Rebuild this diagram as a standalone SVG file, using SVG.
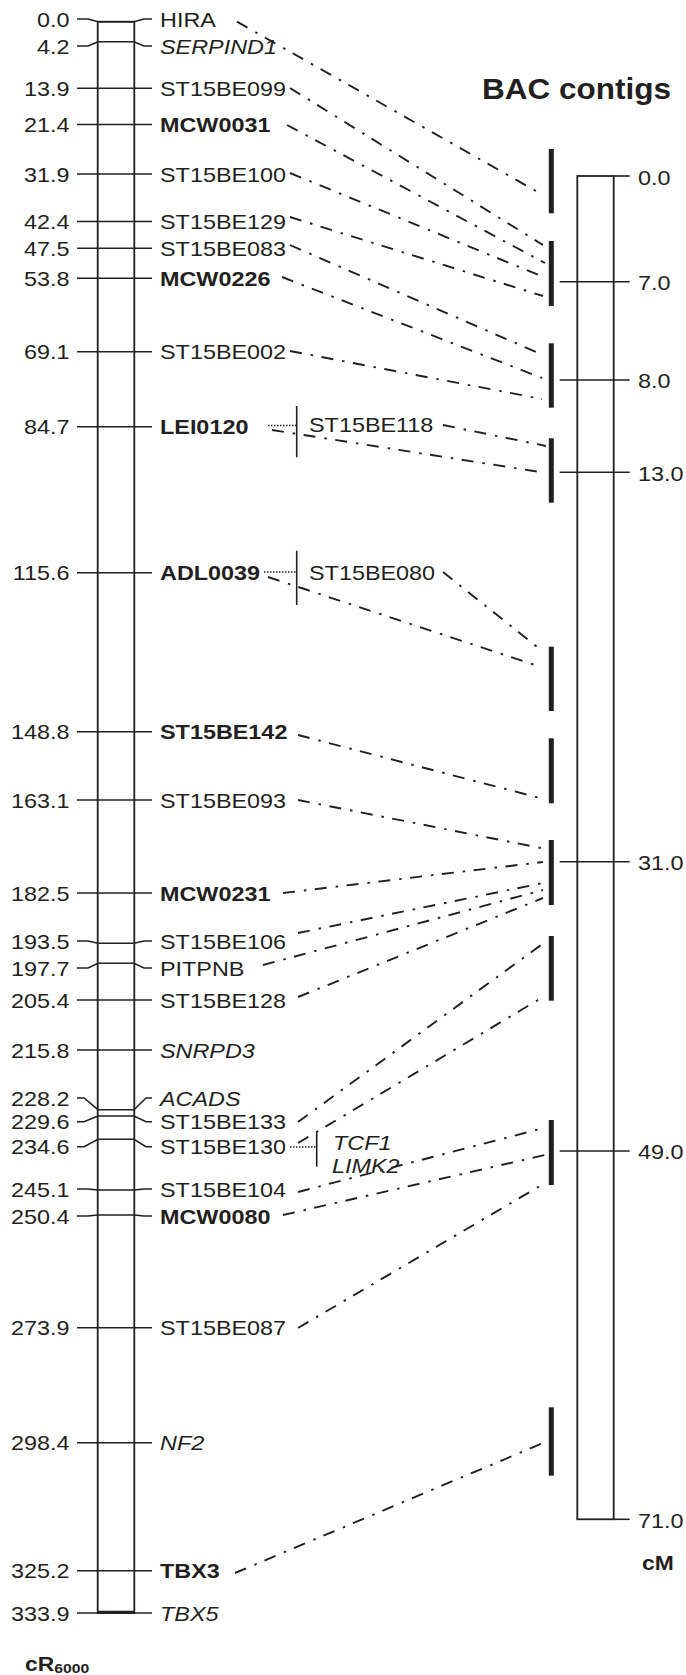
<svg xmlns="http://www.w3.org/2000/svg" width="686" height="1675" viewBox="0 0 686 1675">
<style>
text{font-family:"Liberation Sans",Arial,sans-serif;fill:#231f20}
.n{font-size:20px;text-anchor:end}
.m{font-size:20px}
.b{font-weight:bold}
.i{font-style:italic}
.tk{fill:none;stroke:#231f20;stroke-width:1.6}
.chr{fill:#fff;stroke:#231f20;stroke-width:1.8}
.bar{stroke:#231f20;stroke-width:5}
.cn{fill:none;stroke:#231f20;stroke-width:1.9;stroke-dasharray:12 9 2.5 8.5}
.dt{fill:none;stroke:#231f20;stroke-width:1.3;stroke-dasharray:1.5 1.5}
.vl{stroke:#231f20;stroke-width:1.6}
</style>
<rect width="686" height="1675" fill="#fff"/>

<!-- RH map (cR6000) -->
<g id="rh-map">
<rect class="chr" x="97.7" y="21.7" width="36.6" height="1591.3"/>
<text class="b" transform="translate(25 1670.7) scale(1.17 1)" font-size="19.5">cR<tspan font-size="13.5" dy="2">6000</tspan></text>
</g>

<g id="m-HIRA"><polyline class="tk" points="77,19 88,19 98,21.7 134,21.7 144,19 152,19"/>
<text class="n" transform="translate(69.5 26.5) scale(1.17 1)">0.0</text><text class="m" transform="translate(160 26.5) scale(1.17 1)">HIRA</text></g>
<g id="m-SERPIND1"><polyline class="tk" points="77,46 88,46 98,41.7 134,41.7 144,46 152,46"/>
<text class="n" transform="translate(69.5 53.5) scale(1.17 1)">4.2</text><text class="m i" transform="translate(160 53.5) scale(1.17 1)">SERPIND1</text></g>
<g id="m-ST15BE099"><polyline class="tk" points="77,88.3 152,88.3"/>
<text class="n" transform="translate(69.5 95.8) scale(1.17 1)">13.9</text><text class="m" transform="translate(160 95.8) scale(1.17 1)">ST15BE099</text></g>
<g id="m-MCW0031"><polyline class="tk" points="77,124.5 152,124.5"/>
<text class="n" transform="translate(69.5 132) scale(1.17 1)">21.4</text><text class="m b" transform="translate(160 132) scale(1.17 1)">MCW0031</text></g>
<g id="m-ST15BE100"><polyline class="tk" points="77,174 152,174"/>
<text class="n" transform="translate(69.5 181.5) scale(1.17 1)">31.9</text><text class="m" transform="translate(160 181.5) scale(1.17 1)">ST15BE100</text></g>
<g id="m-ST15BE129"><polyline class="tk" points="77,221.5 152,221.5"/>
<text class="n" transform="translate(69.5 229) scale(1.17 1)">42.4</text><text class="m" transform="translate(160 229) scale(1.17 1)">ST15BE129</text></g>
<g id="m-ST15BE083"><polyline class="tk" points="77,248.3 152,248.3"/>
<text class="n" transform="translate(69.5 255.8) scale(1.17 1)">47.5</text><text class="m" transform="translate(160 255.8) scale(1.17 1)">ST15BE083</text></g>
<g id="m-MCW0226"><polyline class="tk" points="77,278.3 152,278.3"/>
<text class="n" transform="translate(69.5 285.8) scale(1.17 1)">53.8</text><text class="m b" transform="translate(160 285.8) scale(1.17 1)">MCW0226</text></g>
<g id="m-ST15BE002"><polyline class="tk" points="77,351.7 152,351.7"/>
<text class="n" transform="translate(69.5 359.2) scale(1.17 1)">69.1</text><text class="m" transform="translate(160 359.2) scale(1.17 1)">ST15BE002</text></g>
<g id="m-LEI0120"><polyline class="tk" points="77,426.7 152,426.7"/>
<text class="n" transform="translate(69.5 434.2) scale(1.17 1)">84.7</text><text class="m b" transform="translate(160 434.2) scale(1.17 1)">LEI0120</text>
<line class="dt" x1="268" y1="425.5" x2="296" y2="425.5"/><line class="vl" x1="296.7" y1="406" x2="296.7" y2="457.3"/>
<text class="m" transform="translate(309 432) scale(1.17 1)">ST15BE118</text></g>
<g id="m-ADL0039"><polyline class="tk" points="77,572.7 152,572.7"/>
<text class="n" transform="translate(69.5 580.2) scale(1.17 1)">115.6</text><text class="m b" transform="translate(160 580.2) scale(1.17 1)">ADL0039</text>
<line class="dt" x1="264" y1="572" x2="296" y2="572"/><line class="vl" x1="296.7" y1="550.7" x2="296.7" y2="605"/>
<text class="m" transform="translate(309 580) scale(1.17 1)">ST15BE080</text></g>
<g id="m-ST15BE142"><polyline class="tk" points="77,731.7 152,731.7"/>
<text class="n" transform="translate(69.5 739.2) scale(1.17 1)">148.8</text><text class="m b" transform="translate(160 739.2) scale(1.17 1)">ST15BE142</text></g>
<g id="m-ST15BE093"><polyline class="tk" points="77,800 152,800"/>
<text class="n" transform="translate(69.5 807.5) scale(1.17 1)">163.1</text><text class="m" transform="translate(160 807.5) scale(1.17 1)">ST15BE093</text></g>
<g id="m-MCW0231"><polyline class="tk" points="77,893 152,893"/>
<text class="n" transform="translate(69.5 900.5) scale(1.17 1)">182.5</text><text class="m b" transform="translate(160 900.5) scale(1.17 1)">MCW0231</text></g>
<g id="m-ST15BE106"><polyline class="tk" points="77,941 88,941 98,943.3 134,943.3 144,941 152,941"/>
<text class="n" transform="translate(69.5 948.5) scale(1.17 1)">193.5</text><text class="m" transform="translate(160 948.5) scale(1.17 1)">ST15BE106</text></g>
<g id="m-PITPNB"><polyline class="tk" points="77,968 88,968 98,963.3 134,963.3 144,968 152,968"/>
<text class="n" transform="translate(69.5 975.5) scale(1.17 1)">197.7</text><text class="m" transform="translate(160 975.5) scale(1.17 1)">PITPNB</text></g>
<g id="m-ST15BE128"><polyline class="tk" points="77,1000 152,1000"/>
<text class="n" transform="translate(69.5 1007.5) scale(1.17 1)">205.4</text><text class="m" transform="translate(160 1007.5) scale(1.17 1)">ST15BE128</text></g>
<g id="m-SNRPD3"><polyline class="tk" points="77,1050 152,1050"/>
<text class="n" transform="translate(69.5 1057.5) scale(1.17 1)">215.8</text><text class="m i" transform="translate(160 1057.5) scale(1.17 1)">SNRPD3</text></g>
<g id="m-ACADS"><polyline class="tk" points="77,1098 84,1098 98,1109.7 134,1109.7 146,1098 152,1098"/>
<text class="n" transform="translate(69.5 1106) scale(1.17 1)">228.2</text><text class="m i" transform="translate(160 1106) scale(1.17 1)">ACADS</text></g>
<g id="m-ST15BE133"><polyline class="tk" points="77,1121.7 84,1121.7 98,1116 134,1116 146,1121.7 152,1121.7"/>
<text class="n" transform="translate(69.5 1129.2) scale(1.17 1)">229.6</text><text class="m" transform="translate(160 1129.2) scale(1.17 1)">ST15BE133</text></g>
<g id="m-ST15BE130"><polyline class="tk" points="77,1146.7 84,1146.7 98,1139.3 134,1139.3 146,1146.7 152,1146.7"/>
<text class="n" transform="translate(69.5 1154.2) scale(1.17 1)">234.6</text><text class="m" transform="translate(160 1154.2) scale(1.17 1)">ST15BE130</text>
<line class="dt" x1="290" y1="1147" x2="316" y2="1147"/><line class="vl" x1="316.7" y1="1131.7" x2="316.7" y2="1166.7"/>
<text class="m i" transform="translate(333 1150) scale(1.17 1)">TCF1</text><text class="m i" transform="translate(332 1173) scale(1.17 1)">LIMK2</text></g>
<g id="m-ST15BE104"><polyline class="tk" points="77,1189 88,1189 98,1190 134,1190 144,1189 152,1189"/>
<text class="n" transform="translate(69.5 1196.5) scale(1.17 1)">245.1</text><text class="m" transform="translate(160 1196.5) scale(1.17 1)">ST15BE104</text></g>
<g id="m-MCW0080"><polyline class="tk" points="77,1216 88,1216 98,1215 134,1215 144,1216 152,1216"/>
<text class="n" transform="translate(69.5 1223.5) scale(1.17 1)">250.4</text><text class="m b" transform="translate(160 1223.5) scale(1.17 1)">MCW0080</text></g>
<g id="m-ST15BE087"><polyline class="tk" points="77,1327.7 152,1327.7"/>
<text class="n" transform="translate(69.5 1335.2) scale(1.17 1)">273.9</text><text class="m" transform="translate(160 1335.2) scale(1.17 1)">ST15BE087</text></g>
<g id="m-NF2"><polyline class="tk" points="77,1442.7 152,1442.7"/>
<text class="n" transform="translate(69.5 1450.2) scale(1.17 1)">298.4</text><text class="m i" transform="translate(160 1450.2) scale(1.17 1)">NF2</text></g>
<g id="m-TBX3"><polyline class="tk" points="77,1570.7 152,1570.7"/>
<text class="n" transform="translate(69.5 1578.2) scale(1.17 1)">325.2</text><text class="m b" transform="translate(160 1578.2) scale(1.17 1)">TBX3</text></g>
<g id="m-TBX5"><polyline class="tk" points="77,1613 152,1613"/><line class="tk" x1="98" y1="1611.5" x2="134" y2="1611.5"/>
<text class="n" transform="translate(69.5 1620.5) scale(1.17 1)">333.9</text><text class="m i" transform="translate(160 1620.5) scale(1.17 1)">TBX5</text></g>

<!-- Title -->
<g id="title"><text class="b" font-size="30" transform="translate(482 99.3) scale(1.05 1)">BAC contigs</text></g>

<!-- BAC contig bars -->
<g id="bac-1"><line class="bar" x1="551.3" y1="149" x2="551.3" y2="213.3"/></g>
<g id="bac-2"><line class="bar" x1="551.3" y1="241" x2="551.3" y2="306"/></g>
<g id="bac-3"><line class="bar" x1="551.3" y1="343.3" x2="551.3" y2="407.7"/></g>
<g id="bac-4"><line class="bar" x1="551.3" y1="438.3" x2="551.3" y2="502.7"/></g>
<g id="bac-5"><line class="bar" x1="551.3" y1="646.7" x2="551.3" y2="711"/></g>
<g id="bac-6"><line class="bar" x1="551.3" y1="738.3" x2="551.3" y2="803.3"/></g>
<g id="bac-7"><line class="bar" x1="551.3" y1="840" x2="551.3" y2="905"/></g>
<g id="bac-8"><line class="bar" x1="551.3" y1="936" x2="551.3" y2="1000.7"/></g>
<g id="bac-9"><line class="bar" x1="551.3" y1="1120" x2="551.3" y2="1185"/></g>
<g id="bac-10"><line class="bar" x1="551.3" y1="1407.3" x2="551.3" y2="1475.7"/></g>

<!-- Genetic map (cM) -->
<g id="cm-map">
<rect class="chr" x="577.3" y="176" width="36.4" height="1343.3"/>
<line class="tk" x1="613.7" y1="176" x2="629.7" y2="176"/>
<line class="tk" x1="613.7" y1="1519.3" x2="629.7" y2="1519.3"/>
<line class="tk" x1="559.7" y1="281.7" x2="629.7" y2="281.7"/>
<line class="tk" x1="559.7" y1="380" x2="629.7" y2="380"/>
<line class="tk" x1="559.7" y1="472.3" x2="629.7" y2="472.3"/>
<line class="tk" x1="559.7" y1="861.7" x2="629.7" y2="861.7"/>
<line class="tk" x1="559.7" y1="1151" x2="629.7" y2="1151"/>
<text class="m" transform="translate(638 184.5) scale(1.17 1)">0.0</text>
<text class="m" transform="translate(638 290) scale(1.17 1)">7.0</text>
<text class="m" transform="translate(638 388.3) scale(1.17 1)">8.0</text>
<text class="m" transform="translate(638 480.6) scale(1.17 1)">13.0</text>
<text class="m" transform="translate(638 870) scale(1.17 1)">31.0</text>
<text class="m" transform="translate(638 1159.3) scale(1.17 1)">49.0</text>
<text class="m" transform="translate(638 1527.6) scale(1.17 1)">71.0</text>
<text class="b" font-size="21" transform="translate(642 1570) scale(1.09 1)">cM</text>
</g>

<!-- Connectors -->
<g id="connectors">
<line class="cn" x1="237" y1="21.7" x2="543" y2="195"/>
<line class="cn" x1="290" y1="88" x2="543" y2="245"/>
<line class="cn" x1="287" y1="125" x2="545" y2="263"/>
<line class="cn" x1="290" y1="173" x2="546" y2="278"/>
<line class="cn" x1="290" y1="217" x2="543" y2="296"/>
<line class="cn" x1="290" y1="245" x2="543" y2="355"/>
<line class="cn" x1="282" y1="277" x2="542" y2="378"/>
<line class="cn" x1="290" y1="351" x2="542" y2="399"/>
<line class="cn" x1="443" y1="425" x2="546" y2="446"/>
<line class="cn" x1="272" y1="430" x2="540" y2="472"/>
<line class="cn" x1="443" y1="572" x2="541" y2="650"/>
<line class="cn" x1="268" y1="577" x2="541" y2="667"/>
<line class="cn" x1="298" y1="735" x2="540" y2="798"/>
<line class="cn" x1="298" y1="800" x2="541" y2="848"/>
<line class="cn" x1="283" y1="893" x2="543" y2="862"/>
<line class="cn" x1="298" y1="933" x2="543" y2="883"/>
<line class="cn" x1="263" y1="965" x2="543" y2="890"/>
<line class="cn" x1="298" y1="997" x2="543" y2="898"/>
<line class="cn" x1="298" y1="1122" x2="541" y2="945"/>
<line class="cn" x1="298" y1="1143" x2="543" y2="997"/>
<line class="cn" x1="298" y1="1192" x2="540" y2="1129"/>
<line class="cn" x1="283" y1="1215" x2="545" y2="1155"/>
<line class="cn" x1="298" y1="1328" x2="545" y2="1183"/>
<line class="cn" x1="235" y1="1573" x2="543" y2="1443"/>
</g>
</svg>
